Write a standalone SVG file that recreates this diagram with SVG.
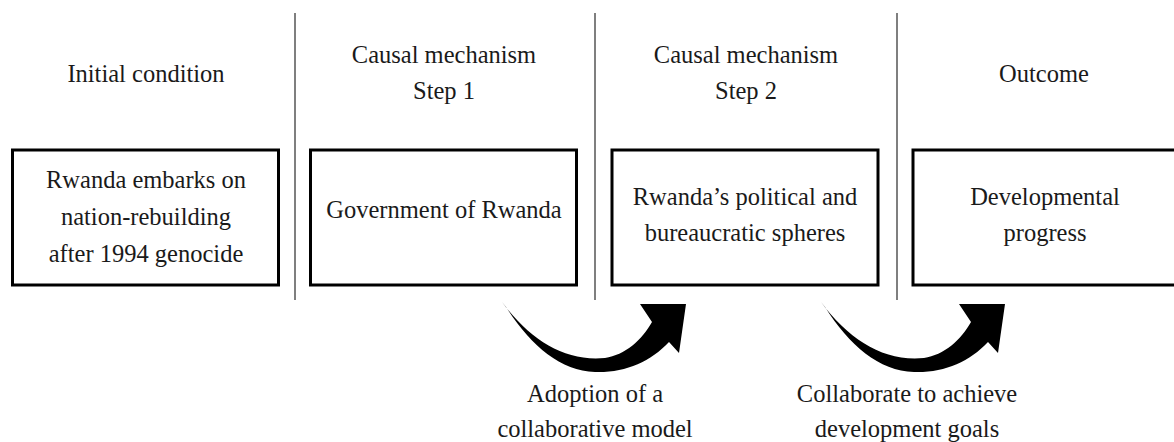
<svg xmlns="http://www.w3.org/2000/svg" width="1174" height="442" viewBox="0 0 1174 442">
<style>
  text { font-family: 'Liberation Serif', 'Times New Roman', serif; font-size: 24.5px; fill: #1a1a1a; text-anchor: middle; }
  .box { fill: #ffffff; stroke: #000000; stroke-width: 3; }
  .div { stroke: #555555; stroke-width: 1.5; }
  .arr { fill: #000000; stroke: none; }
</style>
<defs>
  <path id="curvedArrow" d="M 502,302 C 530,340 565,362 605,358 C 625,355 642,340 652,322 L 640,304 L 686,304 L 679,353 L 669,342 C 650,362 625,373 595,372 C 560,371 530,345 506,307 Z"/>
</defs>
<rect width="1174" height="442" fill="#ffffff"/>

<g id="dividers">
  <line class="div" x1="295" y1="13" x2="295" y2="300"/>
  <line class="div" x1="595" y1="13" x2="595" y2="300"/>
  <line class="div" x1="897" y1="13" x2="897" y2="300"/>
</g>

<g id="headers">
  <text x="146" y="82">Initial condition</text>
  <text x="444" y="63">Causal mechanism</text>
  <text x="444" y="99">Step 1</text>
  <text x="746" y="63">Causal mechanism</text>
  <text x="746" y="99">Step 2</text>
  <text x="1044" y="82">Outcome</text>
</g>

<g id="node-initial">
  <rect class="box" x="12.5" y="150" width="266" height="135"/>
  <text x="146" y="188">Rwanda embarks on</text>
  <text x="146" y="225">nation-rebuilding</text>
  <text x="146" y="262">after 1994 genocide</text>
</g>

<g id="node-government">
  <rect class="box" x="310.5" y="150" width="266" height="135"/>
  <text x="444" y="218">Government of Rwanda</text>
</g>

<g id="node-spheres">
  <rect class="box" x="612" y="150" width="266" height="135"/>
  <text x="745" y="205">Rwanda’s political and</text>
  <text x="745" y="241">bureaucratic spheres</text>
</g>

<g id="node-outcome">
  <rect class="box" x="913" y="150" width="266" height="135"/>
  <text x="1045" y="205">Developmental</text>
  <text x="1045" y="241">progress</text>
</g>

<g id="connectors">
  <use href="#curvedArrow" class="arr"/>
  <use href="#curvedArrow" class="arr" transform="translate(319,0)"/>
  <text x="595" y="402">Adoption of a</text>
  <text x="595" y="437">collaborative model</text>
  <text x="907" y="402">Collaborate to achieve</text>
  <text x="907" y="437">development goals</text>
</g>
</svg>
